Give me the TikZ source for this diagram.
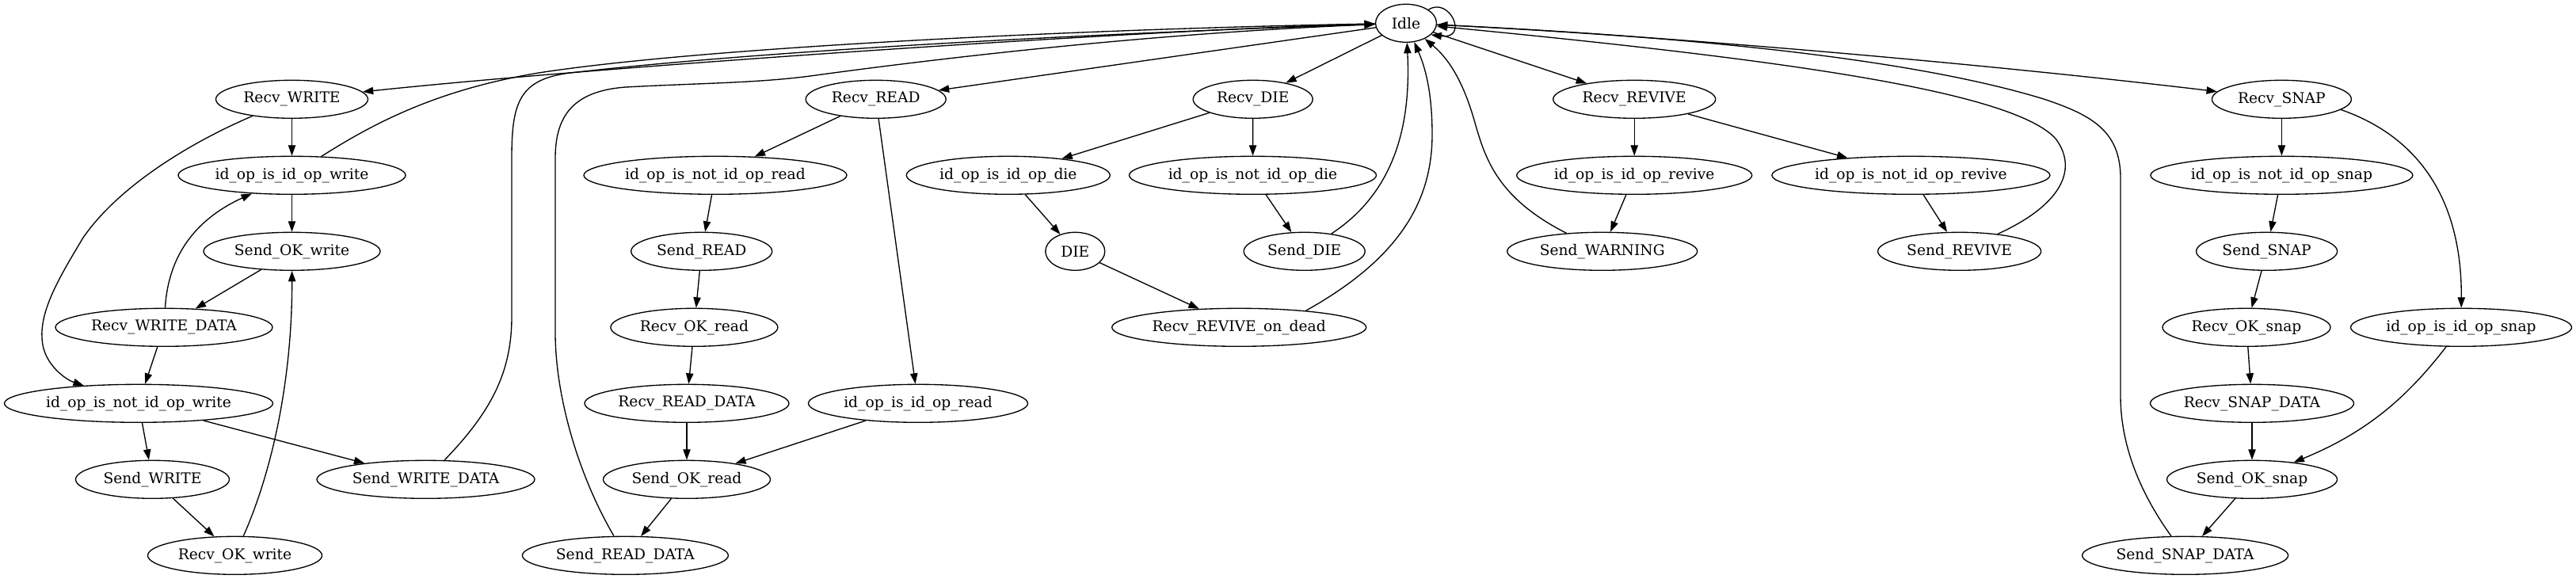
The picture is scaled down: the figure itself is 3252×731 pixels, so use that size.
\documentclass[tikz,border=0pt]{standalone}
\usepackage{fontspec}
\setmainfont{DejaVu Serif}
\usetikzlibrary{shapes.geometric,arrows.meta}
\newcommand{\gvtext}[1]{\makebox[0pt]{#1}}
\tikzset{
  st/.style={ellipse, draw, line width=1pt, inner sep=0pt, minimum height=36pt,
             font=\fontsize{14pt}{16pt}\selectfont},
  W/.style={minimum width=#1*0.75pt},
  ar/.style={line width=1pt, -{Triangle[length=10pt,width=7pt]}},
}
\begin{document}
\begin{tikzpicture}[x=0.75pt,y=-0.75pt]
\useasboundingbox (0,0) rectangle (3252,731);
% nodes
\node[st,W=77]  (Idle) at (1775,29.3) {\gvtext{Idle}};
\node[st,W=192] (RW)   at (368.5,125.3) {\gvtext{Recv\_WRITE}};
\node[st,W=287] (IW)   at (368.5,221.3) {\gvtext{id\_op\_is\_id\_op\_write}};
\node[st,W=223] (SOW)  at (368.5,317.3) {\gvtext{Send\_OK\_write}};
\node[st,W=274] (RWD)  at (207,413.3) {\gvtext{Recv\_WRITE\_DATA}};
\node[st,W=339] (INW)  at (175,509.3) {\gvtext{id\_op\_is\_not\_id\_op\_write}};
\node[st,W=194] (SW)   at (192.5,605.3) {\gvtext{Send\_WRITE}};
\node[st,W=275] (SWD)  at (537.5,605.3) {\gvtext{Send\_WRITE\_DATA}};
\node[st,W=220] (ROW)  at (296.5,701.3) {\gvtext{Recv\_OK\_write}};
\node[st,W=177] (RR)   at (1105.7,125.3) {\gvtext{Recv\_READ}};
\node[st,W=332] (INR)  at (903,221.3) {\gvtext{id\_op\_is\_not\_id\_op\_read}};
\node[st,W=178] (SR)   at (885.7,317.3) {\gvtext{Send\_READ}};
\node[st,W=211] (ROR)  at (876.4,413.3) {\gvtext{Recv\_OK\_read}};
\node[st,W=258] (RRD)  at (867,509.3) {\gvtext{Recv\_READ\_DATA}};
\node[st,W=277] (IR)   at (1159,509.3) {\gvtext{id\_op\_is\_id\_op\_read}};
\node[st,W=211] (SOR)  at (867,605.3) {\gvtext{Send\_OK\_read}};
\node[st,W=260] (SRD)  at (789.4,701.3) {\gvtext{Send\_READ\_DATA}};
\node[st,W=151] (RD)   at (1581.7,125.3) {\gvtext{Recv\_DIE}};
\node[st,W=257] (IDi)  at (1272.8,221.3) {\gvtext{id\_op\_is\_id\_op\_die}};
\node[st,W=312] (INDi) at (1581.5,221.3) {\gvtext{id\_op\_is\_not\_id\_op\_die}};
\node[st,W=75]  (DIE)  at (1357.3,317.3) {\gvtext{DIE}};
\node[st,W=153] (SDi)  at (1646.7,317.3) {\gvtext{Send\_DIE}};
\node[st,W=321] (RROD) at (1564.2,413.3) {\gvtext{Recv\_REVIVE\_on\_dead}};
\node[st,W=205] (RRv)  at (2063.2,125.3) {\gvtext{Recv\_REVIVE}};
\node[st,W=297] (IRv)  at (2063.2,221.3) {\gvtext{id\_op\_is\_id\_op\_revive}};
\node[st,W=240] (SWn)  at (2022.7,317.3) {\gvtext{Send\_WARNING}};
\node[st,W=351] (INRv) at (2412.4,221.3) {\gvtext{id\_op\_is\_not\_id\_op\_revive}};
\node[st,W=206] (SRv)  at (2473.6,317.3) {\gvtext{Send\_REVIVE}};
\node[st,W=176] (RS)   at (2880.4,125.3) {\gvtext{Recv\_SNAP}};
\node[st,W=331] (INS)  at (2880.4,221.3) {\gvtext{id\_op\_is\_not\_id\_op\_snap}};
\node[st,W=178] (SS)   at (2861.6,317.3) {\gvtext{Send\_SNAP}};
\node[st,W=212] (ROS)  at (2836,413.3) {\gvtext{Recv\_OK\_snap}};
\node[st,W=279] (IS)   at (3107,413.3) {\gvtext{id\_op\_is\_id\_op\_snap}};
\node[st,W=257] (RSD)  at (2843,509.3) {\gvtext{Recv\_SNAP\_DATA}};
\node[st,W=215] (SOS)  at (2843,605.3) {\gvtext{Send\_OK\_snap}};
\node[st,W=260] (SSD)  at (2758.6,701.3) {\gvtext{Send\_SNAP\_DATA}};
% self loop
\draw[ar] (Idle.31) .. controls (1830,-5) and (1855,50) .. (Idle.-25);
% WRITE branch
\draw[ar] (Idle) .. controls (1500,35) and (800,80) .. (RW);
\draw[ar] (RW) -- (IW);
\draw[ar] (RW) .. controls (240,180) and (150,235) .. (105,300)
          .. controls (72,355) and (45,400) .. (55,440)
          .. controls (62,465) and (85,480) .. (INW);
\draw[ar] (IW) .. controls (480,150) and (560,112) .. (680,92)
          .. controls (900,58) and (1400,36) .. (Idle);
\draw[ar] (IW) -- (SOW);
\draw[ar] (SOW) -- (RWD);
\draw[ar] (RWD) .. controls (212,330) and (240,280) .. (IW);
\draw[ar] (RWD) -- (INW);
\draw[ar] (INW) -- (SW);
\draw[ar] (INW) -- (SWD);
\draw[ar] (SW) -- (ROW);
\draw[ar] (ROW) .. controls (350,580) and (369,460) .. (SOW);
\draw[ar] (SWD) .. controls (620,520) and (646,470) .. (646,400) -- (646,200)
          .. controls (646,130) and (655,100) .. (720,92)
          .. controls (1000,60) and (1450,40) .. (Idle);
% READ branch
\draw[ar] (Idle) -- (RR);
\draw[ar] (RR) -- (INR);
\draw[ar] (RR) -- (IR);
\draw[ar] (INR) -- (SR);
\draw[ar] (SR) -- (ROR);
\draw[ar] (ROR) -- (RRD);
\draw[ar] (RRD) -- (SOR);
\draw[ar] (IR) -- (SOR);
\draw[ar] (SOR) -- (SRD);
\draw[ar] (SRD) .. controls (730,600) and (701,500) .. (701,420) -- (701,200)
          .. controls (701,150) and (720,115) .. (790,110)
          .. controls (880,105) and (960,105) .. (1030,95)
          .. controls (1250,65) and (1500,40) .. (Idle);
% DIE branch
\draw[ar] (Idle) -- (RD);
\draw[ar] (RD) -- (IDi);
\draw[ar] (RD) -- (INDi);
\draw[ar] (IDi) -- (DIE);
\draw[ar] (DIE) -- (RROD);
\draw[ar] (INDi) -- (SDi);
\draw[ar] (SDi) .. controls (1765,240) and (1781,150) .. (Idle);
\draw[ar] (RROD.14) .. controls (1760,330) and (1808,260) .. (1808,170)
          .. controls (1808,110) and (1797,80) .. (Idle);
% REVIVE branch
\draw[ar] (Idle) -- (RRv);
\draw[ar] (RRv) -- (IRv);
\draw[ar] (RRv) -- (INRv);
\draw[ar] (IRv) -- (SWn);
\draw[ar] (INRv) -- (SRv);
\draw[ar] (SWn) .. controls (1890,250) and (1875,200) .. (1862,155)
          .. controls (1848,105) and (1830,75) .. (Idle);
\draw[ar] (SRv) .. controls (2600,260) and (2625,215) .. (2595,175)
          .. controls (2540,115) and (2250,75) .. (Idle);
% SNAP branch
\draw[ar] (Idle) .. controls (2100,45) and (2500,80) .. (RS);
\draw[ar] (RS) -- (INS);
\draw[ar] (RS.-10) .. controls (3060,175) and (3108,260) .. (IS);
\draw[ar] (INS) -- (SS);
\draw[ar] (SS) -- (ROS);
\draw[ar] (ROS) -- (RSD);
\draw[ar] (RSD) -- (SOS);
\draw[ar] (IS) .. controls (3040,500) and (2990,545) .. (SOS);
\draw[ar] (SOS) -- (SSD);
\draw[ar] (SSD) .. controls (2700,620) and (2677,560) .. (2677,500) -- (2677,225)
          .. controls (2677,165) and (2640,145) .. (2580,125)
          .. controls (2400,70) and (2100,45) .. (Idle);
\end{tikzpicture}
\end{document}
